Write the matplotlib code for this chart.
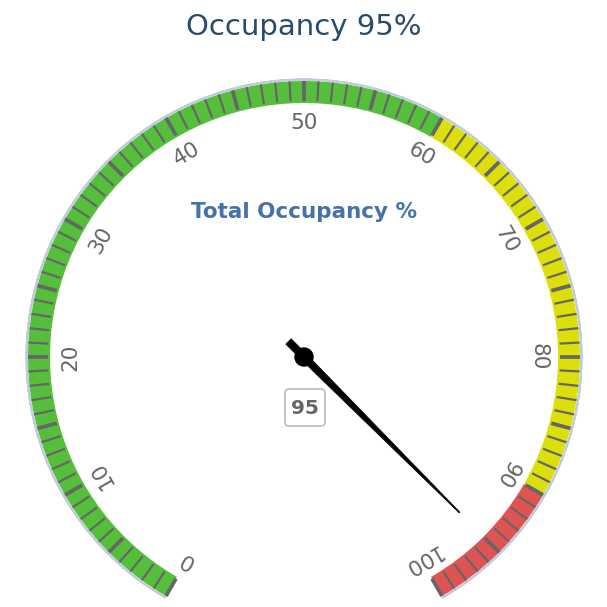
import numpy as np
import matplotlib
matplotlib.use("Agg")
import matplotlib.pyplot as plt
from matplotlib.patches import Wedge, Circle, Polygon, FancyBboxPatch

# ---- data ----
title = "Occupancy 95%"
pane_title = "Total Occupancy %"
value = 95
axis_min, axis_max = 0, 100
tick_labels = [0, 10, 20, 30, 40, 50, 60, 70, 80, 90, 100]
band_from = [0, 60, 90]
band_to = [60, 90, 100]
band_colors = ["#55BF3B", "#DDDF0D", "#DF5353"]

W = H = 607
fig = plt.figure(figsize=(6.07, 6.07), dpi=100)
ax = fig.add_axes([0, 0, 1, 1])
ax.set_xlim(0, W)
ax.set_ylim(0, H)
ax.set_aspect("equal")
ax.axis("off")

cx, cy = 304, H - 357
R_out, R_in = 276, 254
start_a, end_a = -150, 150


def phi(v):
    th = start_a + (end_a - start_a) * (v - axis_min) / (axis_max - axis_min)
    return 90 - th


def pt(v, r):
    a = np.deg2rad(phi(v))
    return cx + r * np.cos(a), cy + r * np.sin(a)


# pane border
ax.add_patch(Wedge((cx, cy), R_out + 1.5, phi(axis_max), phi(axis_min), width=0.01,
                   facecolor="none", edgecolor="#bfcbe0", lw=1.4))

# bands
for f, t, c in zip(band_from, band_to, band_colors):
    ax.add_patch(Wedge((cx, cy), R_out, phi(t), phi(f), width=R_out - R_in,
                       facecolor=c, edgecolor="none"))

# ticks
for v in range(axis_min, axis_max + 1):
    major = v % 5 == 0
    x0, y0 = pt(v, R_out)
    x1, y1 = pt(v, R_out - 20)
    ax.plot([x0, x1], [y0, y1], color="#666666", lw=2.7 if major else 1.6,
            solid_capstyle="butt")

# labels
for v in tick_labels:
    x, y = pt(v, 234)
    ax.text(x, y, str(v), color="#666666", fontsize=15.5, ha="center", va="center",
            rotation=-(start_a + 3 * v), rotation_mode="anchor")

# titles
ax.text(W / 2, H - 27, title, color="#274b6d", fontsize=21, ha="center", va="center")
ax.text(cx, H - 212, pane_title, color="#4572A7", fontsize=15.5, fontweight="bold",
        ha="center", va="center")

# needle
a = np.deg2rad(phi(value))
u = np.array([np.cos(a), np.sin(a)])
n = np.array([-u[1], u[0]])
c = np.array([cx, cy])
pts = [c - 22 * u + 3.8 * n, c + 3.8 * n, c + 220 * u + 0.5 * n,
       c + 220 * u - 0.5 * n, c - 3.8 * n, c - 22 * u - 3.8 * n]
ax.add_patch(Polygon(pts, closed=True, facecolor="black", edgecolor="black", lw=0.5))
ax.add_patch(Circle((cx, cy), 9, facecolor="black", edgecolor="black"))

# data label
ax.add_patch(FancyBboxPatch((285, H - 426), 40, 37,
                            boxstyle="round,pad=0,rounding_size=4",
                            facecolor="white", edgecolor="#c0c0c0", lw=1.3))
ax.text(305, H - 408, str(value), color="#666666", fontsize=14.5, fontweight="bold",
        ha="center", va="center")

fig.savefig("out.png", dpi=100, facecolor="white")
